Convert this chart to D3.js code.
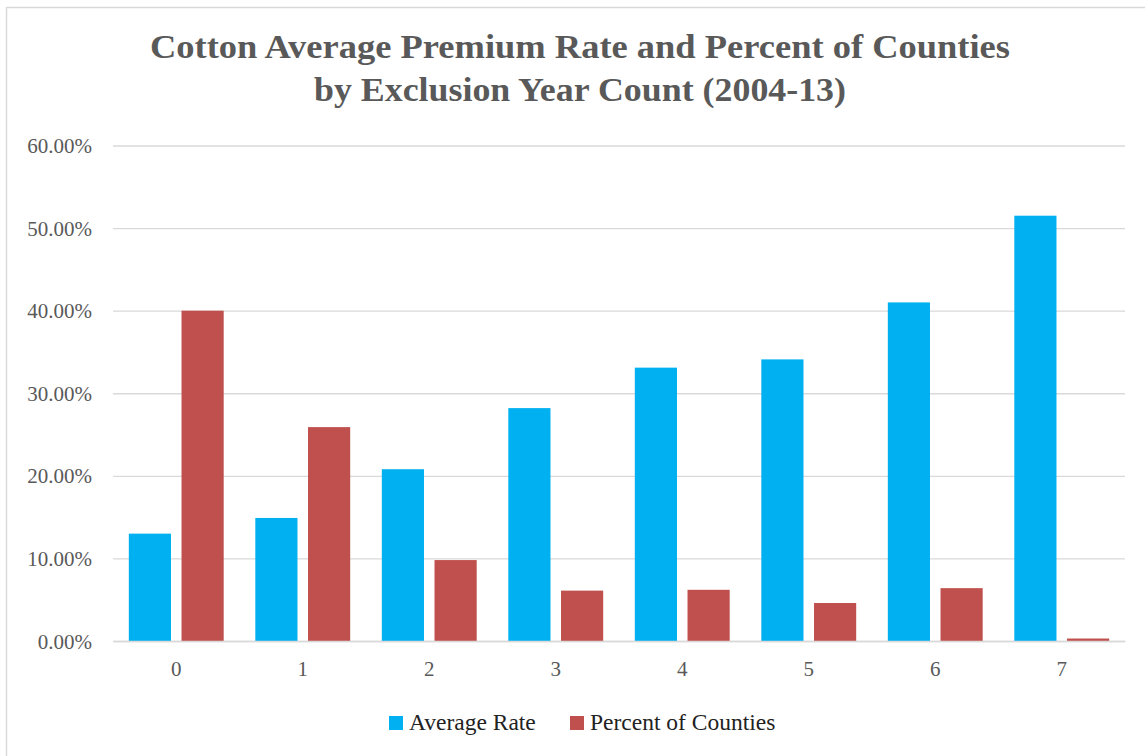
<!DOCTYPE html>
<html>
<head>
<meta charset="utf-8">
<script src="https://cdn.jsdelivr.net/npm/d3@7"></script>
<style>
  html, body { margin: 0; padding: 0; background: #fff; }
  svg { display: block; }
  svg text { font-family: "Liberation Serif", "Times New Roman", Times, "DejaVu Serif", serif; }
</style>
</head>
<body>
<div id="chart"></div>
<script>
// chart data
const categories = ["0", "1", "2", "3", "4", "5", "6", "7"];
const averageRate = [0.130, 0.149, 0.208, 0.282, 0.331, 0.341, 0.410, 0.515];
const percentOfCounties = [0.400, 0.259, 0.098, 0.061, 0.062, 0.046, 0.064, 0.003];
const yTicks = [0, 0.1, 0.2, 0.3, 0.4, 0.5, 0.6];
const seriesNames = ["Average Rate", "Percent of Counties"];
const seriesColors = ["#00B0F0", "#C0504D"];
const titleLines = ["Cotton Average Premium Rate and Percent of Counties", "by Exclusion Year Count (2004-13)"];

const width = 1145, height = 756;
const margin = { top: 145.5, right: 20, bottom: 115, left: 113 };

const svg = d3.select("#chart").append("svg")
    .attr("width", width)
    .attr("height", height);

// chart frame (left + top edges visible)
svg.append("path")
    .attr("d", `M6.5,${height} V7.5 H${width}`)
    .attr("fill", "none")
    .attr("stroke", "#d9d9d9")
    .attr("stroke-width", 1.5);

// title
const titleWidths = [860, 532];
svg.append("g").selectAll("text")
    .data(titleLines)
    .enter()
    .append("text")
    .attr("x", 580)
    .attr("y", (d, i) => 58 + i * 43)
    .attr("text-anchor", "middle")
    .attr("font-size", 33)
    .attr("font-weight", "bold")
    .attr("fill", "#595959")
    .attr("textLength", (d, i) => titleWidths[i])
    .attr("lengthAdjust", "spacingAndGlyphs")
    .text(d => d);

const x0 = d3.scaleBand()
    .domain(categories)
    .range([margin.left, width - margin.right])
    .padding(0);

const x1 = d3.scaleBand()
    .domain(seriesNames)
    .range([0, x0.bandwidth()])
    .paddingInner(0.2)
    .paddingOuter(0.3);

const y = d3.scaleLinear()
    .domain([0, 0.6])
    .range([height - margin.bottom, margin.top]);

// gridlines
const yAxis = svg.append("g")
    .attr("transform", `translate(${margin.left},0)`)
    .call(d3.axisLeft(y)
        .tickValues(yTicks)
        .tickSize(-(width - margin.left - margin.right))
        .tickPadding(21)
        .tickFormat(d3.format(".2%")));
yAxis.select(".domain").remove();
yAxis.selectAll(".tick line")
    .attr("stroke", "#d9d9d9")
    .attr("stroke-width", 1.4);
yAxis.selectAll(".tick text")
    .attr("font-family", null)
    .attr("font-size", 21)
    .attr("fill", "#595959")
    .attr("dy", "0.34em");

// bars
const seriesData = [averageRate, percentOfCounties];
const groups = svg.append("g").selectAll("g")
    .data(categories)
    .enter()
    .append("g")
    .attr("transform", d => `translate(${x0(d)},0)`);

groups.selectAll("rect")
    .data((d, i) => seriesNames.map((s, j) => ({ series: s, value: seriesData[j][i], color: seriesColors[j] })))
    .enter()
    .append("rect")
    .attr("x", d => x1(d.series))
    .attr("y", d => y(d.value))
    .attr("width", x1.bandwidth())
    .attr("height", d => y(0) - y(d.value))
    .attr("fill", d => d.color);

// x axis
const xAxis = svg.append("g")
    .attr("transform", `translate(0,${y(0)})`)
    .call(d3.axisBottom(x0).tickSize(0).tickPadding(20));
xAxis.select(".domain")
    .attr("stroke", "#d9d9d9")
    .attr("stroke-width", 1.4);
xAxis.selectAll(".tick text")
    .attr("font-family", null)
    .attr("font-size", 21)
    .attr("fill", "#595959");

// legend
const legendX = [389, 570];
const legend = svg.append("g").selectAll("g")
    .data(seriesNames)
    .enter()
    .append("g")
    .attr("transform", (d, i) => `translate(${legendX[i]},716)`);
legend.append("rect")
    .attr("width", 14)
    .attr("height", 14)
    .attr("fill", (d, i) => seriesColors[i]);
legend.append("text")
    .attr("x", 20)
    .attr("y", 13.5)
    .attr("font-size", 23.5)
    .attr("fill", "#222")
    .text(d => d);
</script>
</body>
</html>
